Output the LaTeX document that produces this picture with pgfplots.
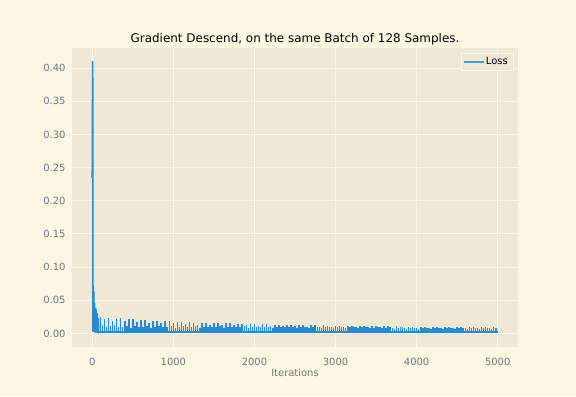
\documentclass[border=0pt]{standalone}
\usepackage{fontspec}
\setmainfont{DejaVu Sans}
\usepackage{pgfplots}
\usepackage{pgfplotstable}
\pgfplotsset{compat=1.18}
\definecolor{figbg}{HTML}{FDF6E3}
\definecolor{axbg}{HTML}{EEE8D5}
\definecolor{tickc}{HTML}{657B83}
\definecolor{lossc}{HTML}{268BD2}
% spikes: x  main-height  secondary-height (spike at x and at x+25)
\pgfplotstableread{
x h s
100 .025 .013
150 .021 .009
200 .024 .011
250 .019 .012
300 .022 .009
350 .023 .010
400 .018 .011
450 .021 .008
500 .021 .011
550 .017 .009
600 .020 .010
650 .020 .011
700 .016 .008
750 .019 .010
800 .019 .011
850 .015 .009
900 .018 .010
950 .018 .011
1000 .015 .008
1050 .017 .010
1100 .017 .011
1150 .014 .009
1200 .017 .010
1250 .016 .011
1300 .013 .008
1350 .016 .010
1400 .016 .010
1450 .013 .009
1500 .0155 .010
1550 .015 .011
1600 .0125 .008
1650 .015 .010
1700 .015 .010
1750 .012 .009
1800 .0145 .010
1850 .014 .011
1900 .012 .008
1950 .014 .010
2000 .014 .010
2050 .0115 .009
2100 .0135 .010
2150 .0135 .010
2200 .011 .008
2250 .013 .010
2300 .013 .010
2350 .011 .009
2400 .013 .0095
2450 .0125 .010
2500 .0105 .008
2550 .0125 .0095
2600 .0125 .010
2650 .010 .008
2700 .012 .0095
2750 .012 .010
2800 .010 .008
2850 .012 .009
2900 .0118 .0095
2950 .0098 .008
3000 .0118 .009
3050 .0115 .0095
3100 .0095 .0078
3150 .0115 .009
3200 .0112 .0095
3250 .0093 .0078
3300 .0112 .009
3350 .011 .0093
3400 .009 .0076
3450 .011 .0088
3500 .0108 .0092
3550 .009 .0075
3600 .0108 .0088
3650 .0106 .009
3700 .0088 .0074
3750 .0106 .0087
3800 .0104 .009
3850 .0087 .0073
3900 .0104 .0086
3950 .0102 .0088
4000 .0086 .0072
4050 .0102 .0085
4100 .010 .0087
4150 .0085 .0071
4200 .010 .0084
4250 .0099 .0086
4300 .0084 .007
4350 .0099 .0083
4400 .0098 .0085
4450 .0083 .007
4500 .0098 .0082
4550 .0097 .0084
4600 .0082 .0069
4650 .0097 .0082
4700 .0096 .0083
4750 .0081 .0069
4800 .0096 .0081
4850 .0095 .0083
4900 .0080 .0068
4950 .0095 .0081
}\spikes
\begin{document}
\begin{tikzpicture}[x=1bp,y=1bp]
\path[use as bounding box, fill=figbg] (0,0) rectangle (576,396);
\begin{axis}[
  at={(72bp,49bp)}, anchor=south west,
  scale only axis, width=446bp, height=299bp,
  xmin=-250, xmax=5250, ymin=-0.0205, ymax=0.4305,
  axis background/.style={fill=axbg},
  axis line style={draw=none},
  grid=major, major grid style={draw=figbg, line width=1bp},
  tick style={draw=none},
  xtick={0,1000,2000,3000,4000,5000},
  ytick={0,0.05,0.1,0.15,0.2,0.25,0.3,0.35,0.4},
  /pgf/number format/assume math mode=true,
  /pgf/number format/1000 sep={},
  yticklabel style={/pgf/number format/fixed, /pgf/number format/precision=2, /pgf/number format/fixed zerofill, font=\fontsize{10}{12}\selectfont, text=tickc, xshift=-3bp},
  scaled y ticks=false,
  xticklabel style={font=\fontsize{10}{12}\selectfont, text=tickc, anchor=base, yshift=-18bp},
  title={Gradient Descend, on the same Batch of 128 Samples.},
  title style={font=\fontsize{12}{14}\selectfont, text=black, at={(0.5,1)}, anchor=base, yshift=0bp},
  xlabel={Iterations},
  xlabel style={font=\fontsize{10}{12}\selectfont, text=tickc, at={(0.5,0)}, anchor=base, yshift=-29bp},
  legend style={at={(1,1)}, anchor=north east, xshift=-5bp, yshift=-5bp, fill=axbg, draw=figbg, font=\fontsize{10}{12}\selectfont, inner xsep=3bp, inner ysep=2bp},
  legend image code/.code={\fill[fill=lossc!85!white, draw=none] (0bp,-1bp) rectangle (20bp,1bp);},
]
% start of training
\addplot[lossc, line width=1.6bp, line join=round, forget plot] coordinates {
(0,0.235) (5,0.41) (9,0.003) (12,0.064) (18,0.063) (21,0.004) (27,0.003) (28,0.045) (31,0.003) (44,0.002) (45,0.037) (49,0.003) (59,0.002) (60,0.030) (63,0.002) (74,0.001) (75,0.022) (78,0.002) (99,0.002)
};
% periodic spikes: main spike at x, secondary at x+25
\addplot[lossc, line width=1.6bp, ycomb, forget plot] table[x=x, y=h] {\spikes};
\addplot[lossc, line width=1.6bp, ycomb, forget plot] table[x expr=\thisrow{x}+25, y=s] {\spikes};
\addplot[draw=lossc, line width=2bp] coordinates {(99,0.002) (4999,0.002)};
\addlegendentry{Loss}
\end{axis}
\end{tikzpicture}
\end{document}
